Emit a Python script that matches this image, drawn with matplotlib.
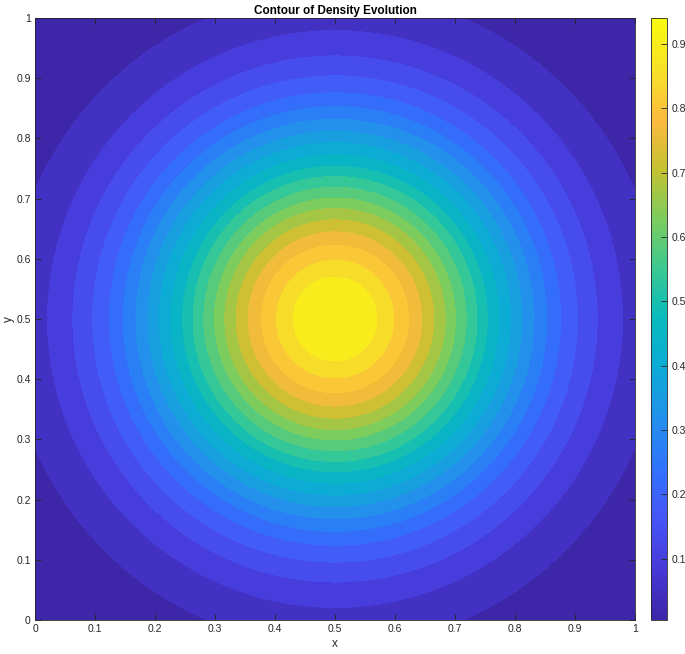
import numpy as np
import matplotlib
matplotlib.use('Agg')
import matplotlib.pyplot as plt
from matplotlib.colors import LinearSegmentedColormap, Normalize
from matplotlib.cm import ScalarMappable

plt.rcParams['font.family'] = ['Liberation Sans', 'DejaVu Sans']

# radial density profile (distance from centre, density)
profile_r = [0.0, 0.0695, 0.097, 0.122, 0.144, 0.164, 0.183, 0.200, 0.218, 0.236, 0.253,
             0.272, 0.292, 0.311, 0.331, 0.352, 0.375, 0.403, 0.436, 0.478, 0.542, 0.71]
profile_rho = [0.94, 0.8955, 0.851, 0.8064, 0.7619, 0.7174, 0.6729, 0.6283, 0.5838, 0.5393, 0.4948,
               0.4502, 0.4057, 0.3612, 0.3166, 0.2721, 0.2276, 0.1831, 0.1386, 0.094, 0.0495, 0.005]
center = (0.5, 0.5)
n_levels = 20
cbar_ticks = [0.1, 0.2, 0.3, 0.4, 0.5, 0.6, 0.7, 0.8, 0.9]
axis_ticks = [0, 0.1, 0.2, 0.3, 0.4, 0.5, 0.6, 0.7, 0.8, 0.9, 1]

# parula-like colormap
parula_pts = [
    (0.00, (0.2422, 0.1504, 0.6603)),
    (0.08, (0.2760, 0.2200, 0.8400)),
    (0.16, (0.2810, 0.3228, 0.9579)),
    (0.25, (0.1950, 0.4500, 0.9900)),
    (0.33, (0.1400, 0.5600, 0.9300)),
    (0.42, (0.0500, 0.6700, 0.8400)),
    (0.50, (0.0300, 0.7300, 0.7400)),
    (0.58, (0.2200, 0.7850, 0.5800)),
    (0.67, (0.5000, 0.8000, 0.3600)),
    (0.75, (0.7700, 0.7600, 0.1900)),
    (0.83, (0.9900, 0.7300, 0.2400)),
    (0.90, (0.9700, 0.8600, 0.1700)),
    (1.00, (0.9763, 0.9831, 0.0538)),
]
parula = LinearSegmentedColormap.from_list('parula', parula_pts, N=256)

x = np.linspace(0, 1, 201)
y = np.linspace(0, 1, 201)
X, Y = np.meshgrid(x, y)
R = np.hypot(X - center[0], Y - center[1])
Z = np.interp(R, profile_r, profile_rho)

zmin, zmax = min(profile_rho), max(profile_rho)
levels = np.linspace(zmin, zmax, n_levels + 2)
norm = Normalize(zmin, zmax)
band_colors = [parula(norm(v)) for v in levels[:-1]]

fig = plt.figure(figsize=(6.85, 6.54), dpi=100)
ax = fig.add_axes([0.0511, 0.052, 0.8759, 0.9205])
cs = ax.contourf(X, Y, Z, levels=levels, colors=band_colors)
cs.set_edgecolor('face')
cs.set_linewidth(0.6)

ax.set_xlim(0, 1)
ax.set_ylim(0, 1)
ax.set_xticks(axis_ticks)
ax.set_yticks(axis_ticks)
ax.set_xticklabels(['0', '0.1', '0.2', '0.3', '0.4', '0.5', '0.6', '0.7', '0.8', '0.9', '1'])
ax.set_yticklabels(['0', '0.1', '0.2', '0.3', '0.4', '0.5', '0.6', '0.7', '0.8', '0.9', '1'])
ax.tick_params(direction='in', length=4, width=0.6, top=True, right=True,
               labelsize=7.5, colors='#262626', pad=3)
for s in ax.spines.values():
    s.set_linewidth(0.6)
    s.set_color('#262626')
    s.set_zorder(5)
ax.set_xlabel('x', fontsize=8.5, color='#262626', labelpad=3)
ax.set_ylabel('y', fontsize=8.5, color='#262626', labelpad=1)
ax.set_title('Contour of Density Evolution', fontsize=8.5, fontweight='bold', pad=3)

cax = fig.add_axes([0.9504, 0.052, 0.0233, 0.9205])
sm = ScalarMappable(norm=norm, cmap=parula)
cb = fig.colorbar(sm, cax=cax, ticks=cbar_ticks)
cb.ax.set_yticklabels(['0.1', '0.2', '0.3', '0.4', '0.5', '0.6', '0.7', '0.8', '0.9'])
cb.ax.tick_params(direction='in', length=4, width=0.6, labelsize=7.5, colors='#262626')
cb.outline.set_linewidth(0.6)
cb.outline.set_edgecolor('#262626')

fig.savefig('out.png', dpi=100)
